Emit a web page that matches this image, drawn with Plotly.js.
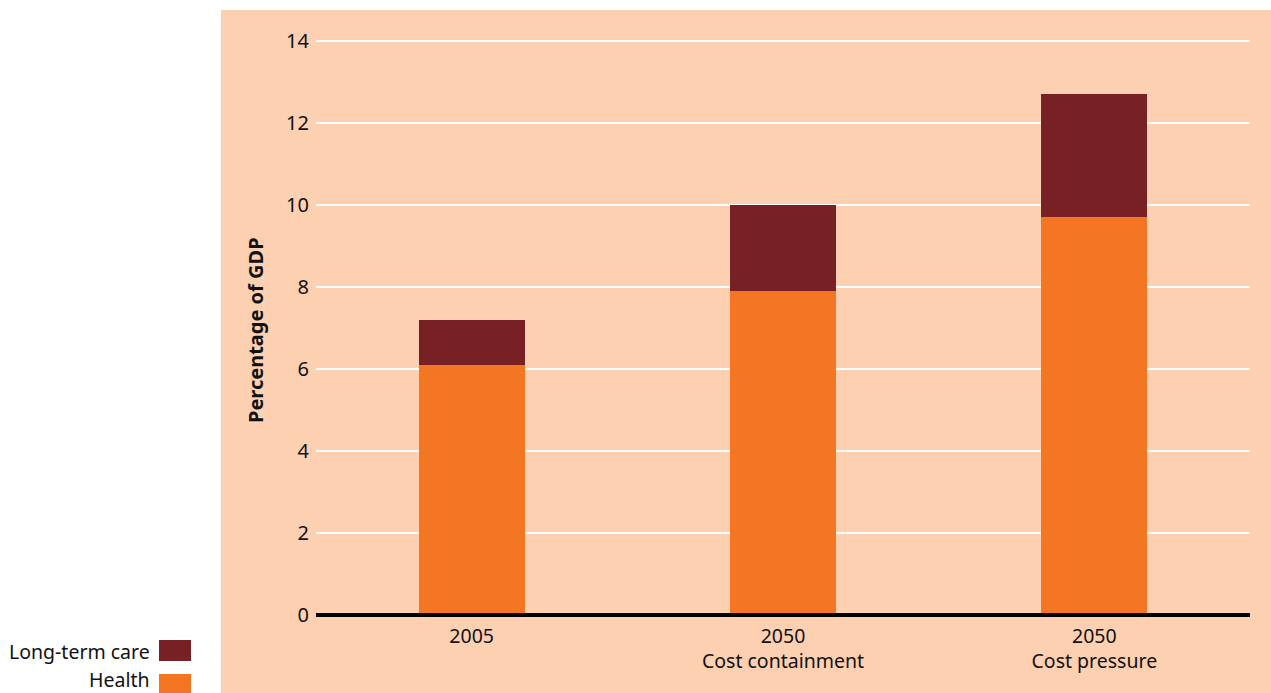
<!DOCTYPE html>
<html>
<head>
<meta charset="utf-8">
<script src="https://cdn.plot.ly/plotly-3.0.1.min.js"></script>
<style>html,body{margin:0;padding:0;background:#fff;}#chart{width:1271px;height:693px;}</style>
</head>
<body>
<div id="chart"></div>
<script>
var categories = ["2005", "2050<br>Cost containment", "2050<br>Cost pressure"];
var seriesNames = ["Health", "Long-term care"];
var health = [6.1, 7.9, 9.7];
var longTermCare = [1.1, 2.1, 3.0];
var yTicks = [0, 2, 4, 6, 8, 10, 12, 14];

var C_HEALTH = "#F57622";
var C_LTC = "#782124";
var C_BG = "#FCD0B0";
var FONT = "Noto Sans, DejaVu Sans, sans-serif";
var TXT = "#111111";

var traces = [
  {type: "bar", name: seriesNames[0], x: categories, y: health, marker: {color: C_HEALTH}, showlegend: false},
  {type: "bar", name: seriesNames[1], x: categories, y: longTermCare, marker: {color: C_LTC}, showlegend: false}
];

var L = 316, R = 1250, T = 10, B = 615, W = 1271, H = 693;
function px(x) { return (x - L) / (R - L); }
function py(y) { return (B - y) / (B - T); }

var layout = {
  width: W, height: H,
  margin: {l: L, r: W - R, t: T, b: H - B, pad: 0},
  paper_bgcolor: "#ffffff",
  plot_bgcolor: "rgba(0,0,0,0)",
  barmode: "stack",
  bargap: 0.66,
  font: {family: FONT, size: 18, color: TXT},
  xaxis: {
    type: "category", range: [-0.5, 2.5], showgrid: false, showline: false, zeroline: false,
    ticks: "", ticklabelstandoff: 7, tickfont: {family: FONT, size: 19.5, color: TXT}, fixedrange: true
  },
  yaxis: {
    range: [0, 14 + (41 - T) / 41], tickvals: yTicks, ticktext: yTicks.map(String),
    showgrid: true, gridcolor: "#ffffff", gridwidth: 2, zeroline: false, showline: false,
    ticks: "outside", ticklen: 2, tickcolor: "rgba(0,0,0,0)",
    tickfont: {family: FONT, size: 20, color: TXT}, fixedrange: true
  },
  shapes: [
    {type: "rect", xref: "paper", yref: "paper", x0: px(221), x1: px(1271), y0: py(693), y1: py(10),
     fillcolor: C_BG, line: {width: 0}, layer: "below"},
    {type: "line", xref: "paper", yref: "paper", x0: 0, x1: 1, y0: py(615), y1: py(615),
     line: {color: "#000000", width: 4}, layer: "above"},
    {type: "rect", xref: "paper", yref: "paper", x0: px(159), x1: px(191), y0: py(661), y1: py(640),
     fillcolor: C_LTC, line: {width: 0}},
    {type: "rect", xref: "paper", yref: "paper", x0: px(159), x1: px(191), y0: py(695), y1: py(674),
     fillcolor: C_HEALTH, line: {width: 0}}
  ],
  annotations: [
    {xref: "paper", yref: "paper", x: px(255), y: py(330), text: "<b>Percentage of GDP</b>", textangle: -90,
     showarrow: false, xanchor: "center", yanchor: "middle", font: {family: FONT, size: 20, color: TXT}},
    {xref: "paper", yref: "paper", x: px(152), y: py(651), text: seriesNames[1], showarrow: false,
     xanchor: "right", yanchor: "middle", font: {family: FONT, size: 19.5, color: TXT}},
    {xref: "paper", yref: "paper", x: px(152), y: py(679), text: seriesNames[0], showarrow: false,
     xanchor: "right", yanchor: "middle", font: {family: FONT, size: 19.5, color: TXT}}
  ]
};

Plotly.newPlot("chart", traces, layout, {displayModeBar: false, staticPlot: true});
</script>
</body>
</html>
